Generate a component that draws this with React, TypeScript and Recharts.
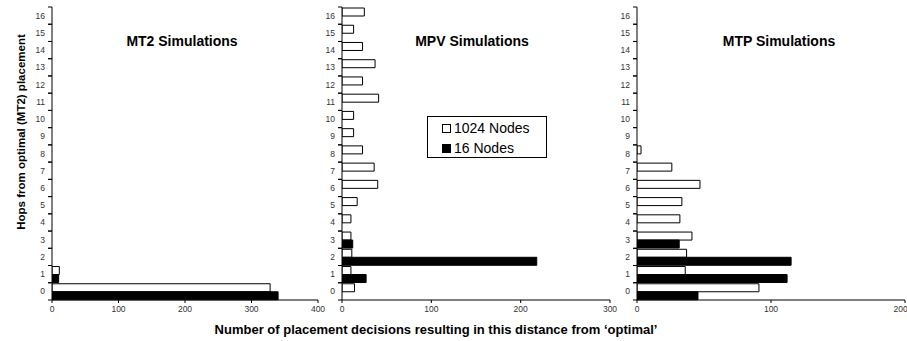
import { BarChart, Bar, XAxis, YAxis, Legend } from "recharts";

// hops from optimal placement (category axis, 0 at the bottom)
const HOPS = [0, 1, 2, 3, 4, 5, 6, 7, 8, 9, 10, 11, 12, 13, 14, 15, 16];

const MT2_1024 = [328, 11, 0, 0, 0, 0, 0, 0, 0, 0, 0, 0, 0, 0, 0, 0, 0];
const MT2_16 = [340, 10, 0, 0, 0, 0, 0, 0, 0, 0, 0, 0, 0, 0, 0, 0, 0];

const MPV_1024 = [14, 10, 11, 10, 10, 17, 40, 36, 23, 13, 13, 41, 23, 37, 23, 13, 25];
const MPV_16 = [0, 27, 218, 12, 0, 0, 0, 0, 0, 0, 0, 0, 0, 0, 0, 0, 0];

const MTP_1024 = [91, 36, 37, 41, 32, 33.5, 47, 26, 3, 0, 0, 0, 0, 0, 0, 0, 0];
const MTP_16 = [45.5, 112, 115, 31.5, 0, 0, 0, 0, 0, 0, 0, 0, 0, 0, 0, 0, 0];

const MT2_TICKS = [0, 100, 200, 300, 400];
const MPV_TICKS = [0, 100, 200, 300];
const MTP_TICKS = [0, 100, 200];

const FONT = "'Liberation Sans', Arial, sans-serif";
const PLOT_H = 293;
const BAND = PLOT_H / HOPS.length;

function makeRows(big: number[], small: number[]) {
  return HOPS.map((h, i) => ({ hop: h, n1024: big[i], n16: small[i] }));
}

function HopTick(props: any) {
  const { x, y, payload } = props;
  return (
    <g>
      <text x={x} y={y} dy={3} textAnchor="end" fontSize={8.5} fill="#333" fontFamily={FONT}>
        {payload.value}
      </text>
      <line x1={x + 3} x2={x + 7} y1={y + BAND / 2} y2={y + BAND / 2} stroke="#000" />
      <line x1={x + 3} x2={x + 7} y1={y - BAND / 2} y2={y - BAND / 2} stroke="#000" />
    </g>
  );
}

function LegendBox() {
  const item = (fill: string, label: string) => (
    <div style={{ display: "flex", alignItems: "center", height: 20 }}>
      <span
        style={{
          display: "inline-block",
          width: 7,
          height: 7,
          background: fill,
          border: "1px solid #000",
          marginRight: 3,
        }}
      />
      <span>{label}</span>
    </div>
  );
  return (
    <div
      style={{
        border: "1px solid #000",
        background: "#fff",
        fontFamily: FONT,
        fontSize: 14,
        color: "#000",
        padding: "1px 0 0 14px",
        boxSizing: "border-box",
        width: 120,
        height: 42,
      }}
    >
      {item("#fff", "1024 Nodes")}
      {item("#000", "16 Nodes")}
    </div>
  );
}

type PanelProps = {
  rows: { hop: number; n1024: number; n16: number }[];
  max: number;
  ticks: number[];
  left: number;
  width: number;
  margin: { top: number; right: number; bottom: number; left: number };
  legend?: boolean;
};

function Panel({ rows, max, ticks, left, width, margin, legend }: PanelProps) {
  return (
    <div style={{ position: "absolute", left, top: 0 }}>
      <BarChart
        width={width}
        height={341}
        data={rows}
        layout="vertical"
        margin={margin}
        barCategoryGap={1}
        barGap={0}
      >
        <XAxis
          type="number"
          domain={[0, max]}
          ticks={ticks}
          allowDataOverflow
          height={20}
          tickSize={3}
          tickMargin={3}
          tick={{ fontSize: 8.5, fill: "#333", fontFamily: FONT }}
          axisLine={{ stroke: "#000" }}
          tickLine={{ stroke: "#000" }}
        />
        <XAxis
          xAxisId="top"
          orientation="top"
          type="number"
          domain={[0, max]}
          height={0}
          tick={false}
          tickLine={false}
          axisLine={{ stroke: "#999" }}
        />
        <YAxis
          type="category"
          dataKey="hop"
          reversed
          interval={0}
          width={22}
          tickSize={4}
          tickMargin={3}
          tickLine={false}
          tick={<HopTick />}
          axisLine={{ stroke: "#000" }}
        />
        <YAxis
          yAxisId="right"
          orientation="right"
          type="category"
          dataKey="hop"
          reversed
          width={0}
          tick={false}
          tickLine={false}
          axisLine={{ stroke: "#999" }}
        />
        {legend && (
          <Legend
            layout="vertical"
            align="center"
            verticalAlign="middle"
            content={<LegendBox />}
            wrapperStyle={{ position: "absolute", left: 127, top: 116, width: 120, height: 42 }}
          />
        )}
        <Bar dataKey="n1024" name="1024 Nodes" fill="#fff" stroke="#000" strokeWidth={1} isAnimationActive={false} />
        <Bar dataKey="n16" name="16 Nodes" fill="#000" stroke="#000" strokeWidth={1} isAnimationActive={false} />
      </BarChart>
    </div>
  );
}

export default function App() {
  return (
    <div style={{ position: "absolute", left: 0, top: 0, width: 907, height: 341, background: "#fff", overflow: "hidden" }}>
      <Panel
        rows={makeRows(MT2_1024, MT2_16)}
        max={400}
        ticks={MT2_TICKS}
        left={0}
        width={330}
        margin={{ top: 7, right: 12, bottom: 21, left: 30 }}
      />
      <Panel
        rows={makeRows(MPV_1024, MPV_16)}
        max={300}
        ticks={MPV_TICKS}
        left={300}
        width={320}
        margin={{ top: 7, right: 10, bottom: 21, left: 20 }}
        legend
      />
      <Panel
        rows={makeRows(MTP_1024, MTP_16)}
        max={200}
        ticks={MTP_TICKS}
        left={590}
        width={317}
        margin={{ top: 7, right: 2, bottom: 21, left: 25 }}
      />
      <svg width={907} height={341} style={{ position: "absolute", left: 0, top: 0, pointerEvents: "none" }}>
        <g fontFamily={FONT} fontWeight="bold" fill="#000">
          <text x={182} y={46} fontSize={14} textAnchor="middle">MT2 Simulations</text>
          <text x={472} y={46} fontSize={14} textAnchor="middle">MPV Simulations</text>
          <text x={779} y={46} fontSize={14} textAnchor="middle">MTP Simulations</text>
          <text x={436} y={334} fontSize={13} textAnchor="middle">
            Number of placement decisions resulting in this distance from ‘optimal’
          </text>
          <text x={25} y={132} fontSize={11.5} textAnchor="middle" transform="rotate(-90 25 132)">
            Hops from optimal (MT2) placement
          </text>
        </g>
      </svg>
    </div>
  );
}
